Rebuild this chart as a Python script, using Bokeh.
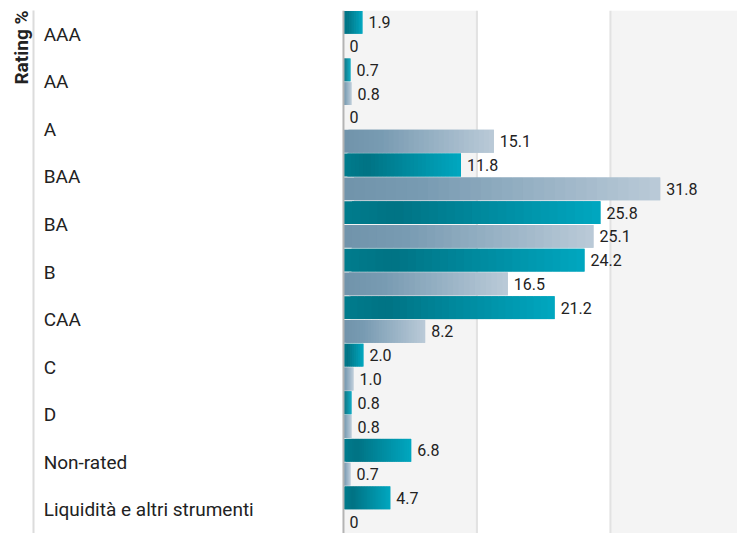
from bokeh.plotting import figure
from bokeh.models import Range1d, Span, Title, ColumnDataSource, FixedTicker
from bokeh.core.properties import value
from bokeh.embed import file_html
from bokeh.resources import INLINE

categories = ["AAA", "AA", "A", "BAA", "BA", "B", "CAA", "C", "D", "Non-rated",
              "Liquidità e altri strumenti"]
fund = [1.9, 0.7, 0.0, 11.8, 25.8, 24.2, 21.2, 2.0, 0.8, 6.8, 4.7]
benchmark = [0.0, 0.8, 15.1, 31.8, 25.1, 16.5, 8.2, 1.0, 0.8, 0.7, 0.0]
x_ticks = [0.0, 13.4, 26.8, 40.2]
axis_title = "Rating %"

FONT = "Roboto"
N = 30  # gradient slices per bar

p = figure(width=737, height=533, output_backend="svg", toolbar_location=None,
           x_range=Range1d(-31.12, 39.56), y_range=Range1d(len(categories), 0),
           min_border_left=33, min_border_right=0, min_border_top=10, min_border_bottom=0)
p.outline_line_color = None
p.background_fill_color = "white"
p.border_fill_color = "white"
p.xgrid.visible = False
p.ygrid.visible = False
p.xaxis.visible = False
p.yaxis.ticker = FixedTicker(ticks=[])
p.yaxis.major_label_text_font_size = "0px"
p.yaxis.major_tick_line_color = None
p.yaxis.minor_tick_line_color = None
p.yaxis.axis_line_color = "#dcdcdc"
p.yaxis.axis_line_width = 2
p.add_layout(Title(text=axis_title, align="right", text_font=FONT, text_font_size="19px",
                   text_font_style="bold", text_color="#222222", standoff=2), "left")

# background bands
ny = len(categories)
band_l = [x_ticks[0], x_ticks[2]]
band_r = [x_ticks[1], x_ticks[3]]
p.quad(left=band_l, right=band_r, bottom=[ny] * 2, top=[0] * 2,
       fill_color="#f4f4f4", line_color=None)
p.segment(x0=x_ticks[1:3], x1=x_ticks[1:3], y0=[0, 0], y1=[ny, ny],
          line_color="#e2e2e2", line_width=2)


def lerp_color(stops, t):
    for (t0, c0), (t1, c1) in zip(stops[:-1], stops[1:]):
        if t <= t1:
            f = (t - t0) / (t1 - t0) if t1 > t0 else 0
            c = [round(a + (b - a) * f) for a, b in zip(c0, c1)]
            return "#%02x%02x%02x" % tuple(c)
    return "#%02x%02x%02x" % tuple(stops[-1][1])


teal_stops = [(0.0, (0x00, 0x7c, 0x8d)), (0.2, (0x00, 0x73, 0x84)), (1.0, (0x00, 0xa7, 0xc0))]
gray_stops = [(0.0, (0x70, 0x93, 0xaa)), (0.25, (0x78, 0x9b, 0xb2)), (1.0, (0xba, 0xca, 0xd8))]

BAR_H = 0.48


def gradient_bars(vals, offset, stops):
    L, R, B, T, C = [], [], [], [], []
    for i, v in enumerate(vals):
        if v <= 0:
            continue
        for k in range(N):
            # each slice spans two slice widths so the next one covers any seam
            L.append(v * k / N)
            R.append(v * min(k + 2, N) / N)
            B.append(i + offset + BAR_H / 2)
            T.append(i + offset - BAR_H / 2)
            C.append(lerp_color(stops, (k + 0.5) / N))
    src = ColumnDataSource(dict(left=L, right=R, bottom=B, top=T, color=C))
    p.quad(left="left", right="right", bottom="bottom", top="top", fill_color="color",
           line_color=None, source=src)


gradient_bars(fund, 0.25, teal_stops)
gradient_bars(benchmark, 0.75, gray_stops)


def fmt(v):
    return "0" if v == 0 else f"{v:.1f}"


ys = list(range(ny))
lab = ColumnDataSource(dict(
    x=fund + benchmark,
    y=[i + 0.25 for i in ys] + [i + 0.75 for i in ys],
    t=[fmt(v) for v in fund] + [fmt(v) for v in benchmark]))
p.text(x="x", y="y", text="t", source=lab, x_offset=6, text_align="left",
       text_baseline="middle", text_font=value(FONT), text_font_size="16px",
       text_color="#222222")

cat = ColumnDataSource(dict(x=[-30.1] * ny, y=[i + 0.5 for i in ys], t=categories))
p.text(x="x", y="y", text="t", source=cat, text_align="left", text_baseline="middle",
       text_font=value(FONT), text_font_size="19px", text_color="#222222")

p.add_layout(Span(location=0, dimension="height", line_color="#b4b4b4", line_width=2))

open("out.html", "w").write(file_html(p, INLINE))
